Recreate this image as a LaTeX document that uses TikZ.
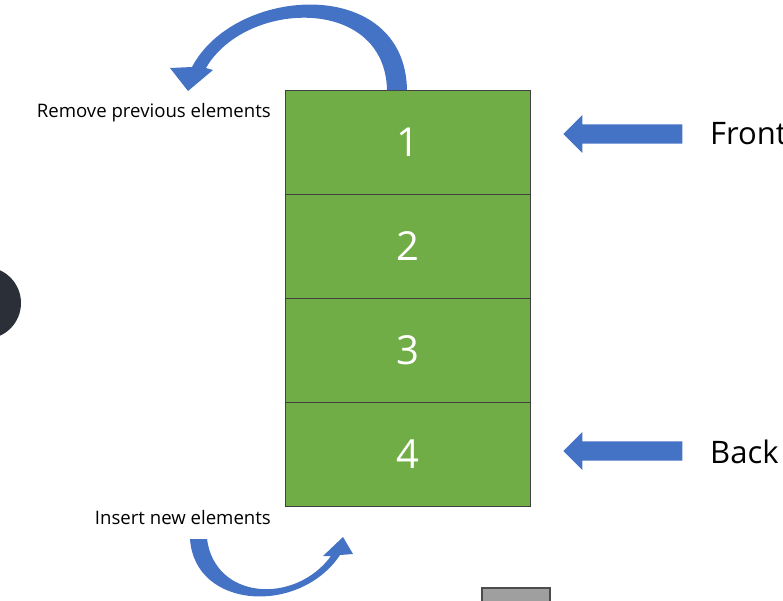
\documentclass[tikz,border=0pt]{standalone}
\usepackage{fontspec}
\setmainfont{Open Sans}
\usetikzlibrary{positioning, shapes.arrows}
\definecolor{cellgreen}{HTML}{70AD47}
\definecolor{arrowblue}{HTML}{4472C4}
\definecolor{knobgray}{HTML}{2B3038}
\tikzset{
  cell/.style={draw=black!75, fill=cellgreen, line width=0.8pt, minimum width=245pt,
    minimum height=104pt, inner sep=0pt, outer sep=0pt, text=white,
    font=\fontsize{40}{44}\selectfont},
  ptr/.style={single arrow, fill=arrowblue, shape border rotate=180, minimum height=119pt,
    minimum width=38pt, single arrow head extend=9.5pt, single arrow tip angle=90,
    inner xsep=0pt, inner ysep=9.5pt, anchor=tip},
  lbl/.style={inner sep=0pt, font=\fontsize{18.6}{20}\selectfont},
  side/.style={inner sep=0pt, anchor=west, font=\fontsize{31}{36}\selectfont}
}

\begin{document}
\begin{tikzpicture}[x=1pt, y=-1pt]
\useasboundingbox (0,0) rectangle (783,600);
% screen leftovers
\fill[knobgray] (-15,303) circle (36);
\draw[fill=gray!75, draw=black!70, line width=2pt] (482,588) rectangle (550,606);
% the queue
\node[cell] (c1) at (407.5,142) {1};
\node[cell, below=0pt of c1] (c2) {2};
\node[cell, below=0pt of c2] (c3) {3};
\node[cell, below=0pt of c3] (c4) {4};
% labels
\node[lbl, anchor=east] (removelbl) at (271,113) {Remove previous elements};
\node[lbl, anchor=east] (insertlbl) at (271,518) {Insert new elements};
\node[side] (frontlbl) at (710,134) {Front};
\node[side] (backlbl) at (710,452) {Back};
\node[ptr] (frontptr) at (563,134) {};
\node[ptr] (backptr) at (563,451) {};
% curved arrows
\fill[arrowblue] (407,90) .. controls (405,-25) and (235,-15) .. (192,67)
  -- (170,68) -- (188,91) -- (213,70) -- (206,68)
  .. controls (245,0) and (385,-5) .. (387,90) -- cycle;
\fill[arrowblue] (190,539) .. controls (195,610) and (300,615) .. (340,555)
  -- (353,554) -- (343,537) -- (323,556) -- (331,556)
  .. controls (295,605) and (215,600) .. (207,539) -- cycle;
\end{tikzpicture}
\end{document}
